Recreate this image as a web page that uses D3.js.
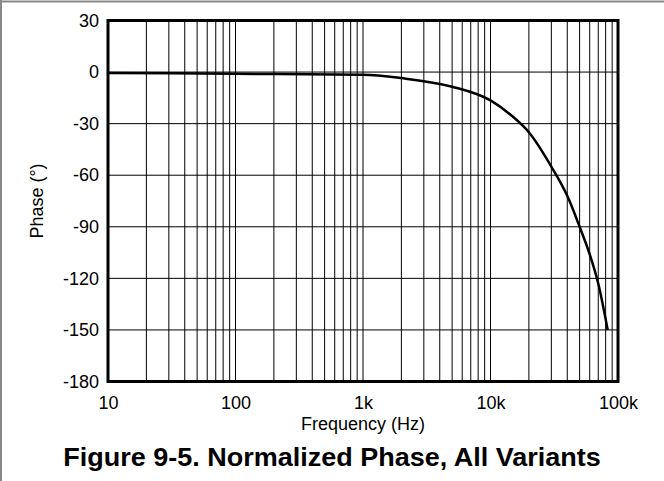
<!DOCTYPE html>
<html>
<head>
<meta charset="utf-8">
<script src="https://cdn.jsdelivr.net/npm/d3@7"></script>
<style>
  body { margin: 0; background: #fff; }
  svg text { font-family: "Liberation Sans", Arial, sans-serif; fill: #000; }
</style>
</head>
<body>
<script>
// Phase response (Hz, degrees)
var freqs  = [10, 100, 1000, 2000, 5000, 10000, 15000, 20000, 30000, 40000, 50000, 60000, 70000, 83000]
var phases = [-0.5, -1, -1.5, -3.5, -8.5, -16.5, -26, -35, -55, -72, -90, -106, -123, -150]

var xTicks = [10, 100, 1000, 10000, 100000]
var xTickLabels = ["10", "100", "1k", "10k", "100k"]
var yTicks = [30, 0, -30, -60, -90, -120, -150, -180]

var W = 664, H = 481
var margin = {top: 20.5, right: 46, bottom: 99.5, left: 108}
var width = W - margin.left - margin.right
var height = H - margin.top - margin.bottom

var svg = d3.select("body").append("svg")
	.attr("width", W)
	.attr("height", H)

// the page frame (only top and left show in the figure)
svg.append("line").attr("x1", 0).attr("x2", W).attr("y1", 1.5).attr("y2", 1.5)
	.attr("stroke", "#888").attr("stroke-width", 2)
svg.append("line").attr("x1", 1).attr("x2", 1).attr("y1", 0).attr("y2", H)
	.attr("stroke", "#888").attr("stroke-width", 2)

var g = svg.append("g")
	.attr("transform", "translate(" + margin.left + "," + margin.top + ")")

var x = d3.scaleLog().domain([10, 100000]).range([0, width])
var y = d3.scaleLinear().domain([-180, 30]).range([height, 0])

// minor + major vertical grid, 1..9 per decade
var gridX = []
for (var dec = 10; dec < 100000; dec *= 10) {
	for (var k = 1; k < 10; k++) gridX.push(dec * k)
}
g.selectAll(".vgrid")
	.data(gridX)
	.enter().append("line")
	.attr("class", "vgrid")
	.attr("x1", function(d) { return x(d) })
	.attr("x2", function(d) { return x(d) })
	.attr("y1", 0).attr("y2", height)
	.attr("stroke", "#000").attr("stroke-width", 1)

g.selectAll(".hgrid")
	.data(yTicks)
	.enter().append("line")
	.attr("class", "hgrid")
	.attr("x1", 0).attr("x2", width)
	.attr("y1", function(d) { return y(d) })
	.attr("y2", function(d) { return y(d) })
	.attr("stroke", "#000").attr("stroke-width", 1)

// axes, only used for the labels (plain hyphen for minus, like the original)
var xAxis = d3.axisBottom(x).tickValues(xTicks)
	.tickFormat(function(d, i) { return xTickLabels[i] })
	.tickSize(0).tickPadding(15)
var yAxis = d3.axisLeft(y).tickValues(yTicks)
	.tickFormat(function(d) { return String(d) })
	.tickSize(0).tickPadding(9)

var gx = g.append("g").attr("transform", "translate(0," + height + ")").call(xAxis)
var gy = g.append("g").call(yAxis)
gx.select(".domain").remove()
gy.select(".domain").remove()
gx.selectAll("text").attr("font-size", 18).style("font-family", "Liberation Sans, Arial, sans-serif")
gy.selectAll("text").attr("font-size", 18).style("font-family", "Liberation Sans, Arial, sans-serif")

// the curve
var line = d3.line()
	.x(function(d, i) { return x(freqs[i]) })
	.y(function(d) { return y(d) })
	.curve(d3.curveMonotoneX)

g.append("path")
	.datum(phases)
	.attr("d", line)
	.attr("fill", "none")
	.attr("stroke", "#000")
	.attr("stroke-width", 2.5)

// plot frame
g.append("rect")
	.attr("width", width).attr("height", height)
	.attr("fill", "none").attr("stroke", "#000").attr("stroke-width", 3)

// labels
g.append("text")
	.attr("x", width / 2).attr("y", height + 48)
	.attr("text-anchor", "middle").attr("font-size", 18)
	.text("Frequency (Hz)")

svg.append("text")
	.attr("transform", "translate(43," + (margin.top + height / 2) + ") rotate(-90)")
	.attr("text-anchor", "middle").attr("font-size", 18)
	.text("Phase (°)")

svg.append("text")
	.attr("transform", "translate(" + (W / 2) + ",466) scale(1.08,1)")
	.attr("text-anchor", "middle").attr("font-size", 25).attr("font-weight", "bold")
	.text("Figure 9-5. Normalized Phase, All Variants")
</script>
</body>
</html>
